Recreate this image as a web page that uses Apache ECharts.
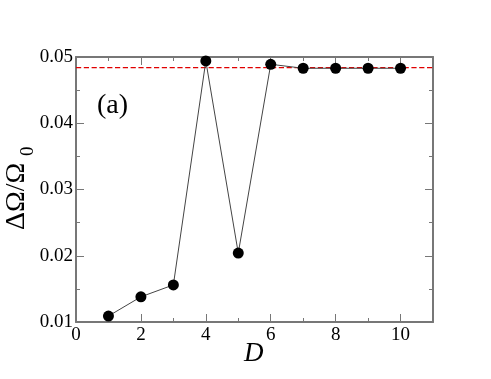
<!DOCTYPE html>
<html><head><meta charset="utf-8">
<script src="https://cdn.jsdelivr.net/npm/echarts@6/dist/echarts.min.js"></script>
<style>html,body{margin:0;padding:0;background:#fff}#c{width:491px;height:379px}</style>
</head><body><div id="c"></div>
<script>
var dValues = [1, 2, 3, 4, 5, 6, 7, 8, 9, 10];
var ratioValues = [0.0109, 0.0138, 0.0156, 0.0494, 0.0204, 0.0489, 0.0483, 0.0483, 0.0483, 0.0483];
var referenceLevel = 0.0484;
var referenceRange = [0, 11];
var xTicks = [0, 2, 4, 6, 8, 10];
var yTicks = [0.01, 0.02, 0.03, 0.04, 0.05];

(function () {
  var chart = echarts.init(document.getElementById('c'), null, {renderer: 'canvas'});
  var axisCol = '#777';
  function mkAxis(extra) {
    var a = {
      axisLine: {show: true, onZero: false, lineStyle: {color: axisCol, width: 2}},
      axisTick: {show: true, inside: true, length: 8, lineStyle: {color: axisCol, width: 1}},
      minorTick: {show: true, splitNumber: 2, length: 4, lineStyle: {color: axisCol, width: 1}},
      splitLine: {show: false},
      axisLabel: {show: false}
    };
    for (var k in extra) a[k] = extra[k];
    return a;
  }
  function render() {
    chart.clear();
    chart.setOption({
      animation: false,
      grid: {left: 76, right: 58, top: 57, bottom: 57},
      xAxis: [
        mkAxis({type: 'value', min: 0, max: 11, interval: 2, position: 'bottom',
          axisLabel: {show: true, color: '#000', fontFamily: 'Liberation Serif', fontSize: 19, margin: 4,
            formatter: function (v) { return xTicks.indexOf(v) >= 0 ? String(v) : ''; }}}),
        mkAxis({type: 'value', min: 0, max: 11, interval: 2, position: 'top'})
      ],
      yAxis: [
        mkAxis({type: 'value', min: 0.01, max: 0.05, interval: 0.01, position: 'left',
          axisLabel: {show: true, color: '#000', fontFamily: 'Liberation Serif', fontSize: 19, margin: 3,
            formatter: function (v) { var r = Math.round(v * 100) / 100; return yTicks.indexOf(r) >= 0 ? r.toFixed(2) : ''; }}}),
        mkAxis({type: 'value', min: 0.01, max: 0.05, interval: 0.01, position: 'right'})
      ],
      series: [{
        type: 'line',
        data: referenceRange.map(function (x) { return [x, referenceLevel]; }),
        symbol: 'none',
        lineStyle: {color: '#e00000', type: 'dashed', width: 1.3},
        z: 2
      }, {
        type: 'line',
        data: dValues.map(function (d, i) { return [d, ratioValues[i]]; }),
        symbol: 'circle', symbolSize: 11,
        itemStyle: {color: '#000'},
        lineStyle: {color: '#444', width: 1},
        z: 3
      }],
      graphic: [
        {type: 'text', x: 97, y: 92, style: {text: '(a)', fontFamily: 'Liberation Serif', fontSize: 28, fill: '#000'}},
        {type: 'text', x: 244, y: 340, style: {text: 'D', fontFamily: 'Liberation Serif', fontStyle: 'italic', fontSize: 27, fill: '#000'}},
        {type: 'text', x: 3, y: 230, rotation: Math.PI / 2,
          style: {text: 'ΔΩ/Ω', fontFamily: 'Liberation Serif', fontSize: 28, fill: '#000'}},
        {type: 'text', x: 19, y: 156, rotation: Math.PI / 2,
          style: {text: '0', fontFamily: 'Liberation Serif', fontSize: 19, fill: '#000'}}
      ]
    });
  }
  render();
  if (document.fonts && document.fonts.load) {
    Promise.all([
      document.fonts.load('19px "Liberation Serif"'),
      document.fonts.load('italic 27px "Liberation Serif"')
    ]).then(render, render);
  }
  setTimeout(render, 200);
})();
</script></body></html>
